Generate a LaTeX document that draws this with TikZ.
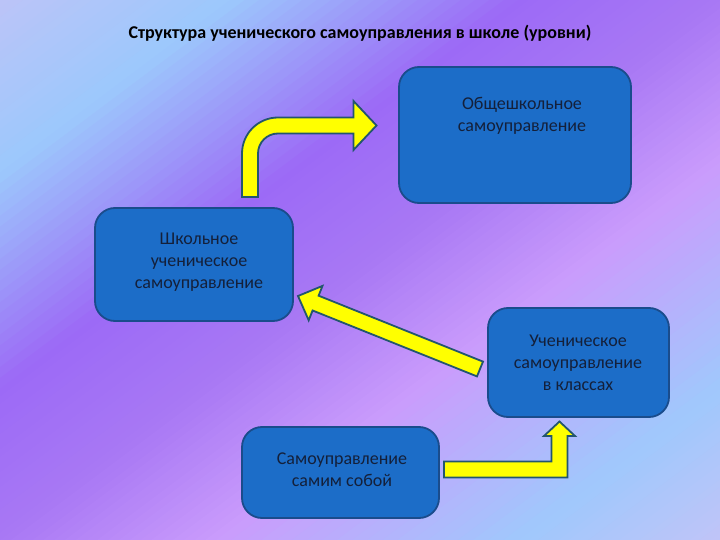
\documentclass[tikz,border=0pt]{standalone}
\usepackage{fontspec}
\setmainfont{Carlito}
\definecolor{bgA}{HTML}{BCC4F8}
\definecolor{bgB}{HTML}{9CC8FC}
\definecolor{bgC}{HTML}{9C6AF6}
\definecolor{bgD}{HTML}{A878F4}
\definecolor{bgE}{HTML}{CA9CFC}
\definecolor{bgF}{HTML}{A0C8FC}
\definecolor{bgG}{HTML}{C0C4F8}
\definecolor{boxfill}{HTML}{1C6DC8}
\definecolor{boxline}{HTML}{1A4C8C}
\definecolor{txtcol}{HTML}{14203A}
\definecolor{arrline}{HTML}{23566E}
\definecolor{arrfill}{HTML}{FFFF00}
\newcommand{\bgseg}[4]{%
  \foreach \i in {0,...,19}{%
    \pgfmathsetmacro\sa{#1+(#2-#1)*\i/20}%
    \pgfmathsetmacro\sb{#1+(#2-#1)*(\i+1)/20+0.004}%
    \pgfmathsetmacro\pct{100-100*(\i+0.5)/20}%
    \fill[#3!\pct!#4] (720*\sa,0) -- (0,540*\sa) -- (0,540*\sb) -- (720*\sb,0) -- cycle;
  }}
\begin{document}
\begin{tikzpicture}[x=1pt,y=-1pt,
  box/.style={draw=boxline, line width=1.8pt, fill=boxfill, rounded corners=20pt, inner sep=0pt},
  txt/.style={text=txtcol, align=center, font=\fontsize{18}{22}\selectfont},
  blockarrow/.style={fill=arrfill, draw=arrline, line width=1.8pt, line join=miter}]
\useasboundingbox (0,0) rectangle (720,540);
\begin{scope}
\clip (0,0) rectangle (720,540);
\bgseg{0}{0.32}{bgA}{bgB}
\bgseg{0.32}{0.72}{bgB}{bgC}
\bgseg{0.72}{1.0}{bgC}{bgD}
\bgseg{1.0}{1.3}{bgD}{bgE}
\bgseg{1.3}{1.72}{bgE}{bgF}
\bgseg{1.72}{2.0}{bgF}{bgG}
\end{scope}
% title
\node[anchor=base, font=\bfseries\fontsize{18}{21}\selectfont, text=black] (title) at (360,39)
  {Структура ученического самоуправления в школе (уровни)};
% boxes
\node[box, minimum width=232pt, minimum height=136pt] (A) at (515,135) {};
\node[box, minimum width=198pt, minimum height=113pt] (B) at (194,264.5) {};
\node[box, minimum width=181pt, minimum height=109pt] (C) at (578.5,362.5) {};
\node[box, minimum width=197pt, minimum height=91pt] (D) at (340.5,472.5) {};
\node[txt] (tA) at (522,115.5) {Общешкольное\\самоуправление};
\node[txt] (tB) at (199,262) {Школьное\\ученическое\\самоуправление};
\node[txt] (tC) at (578,363) {Ученическое\\самоуправление\\в классах};
\node[txt] (tD) at (342,470) {Самоуправление\\самим собой};
% arrow 1: B -> A
\coordinate (a1s) at (250,197);
\coordinate (a1e) at (376.5,125.5);
\draw[blockarrow] (242,197) -- (242,153.5) arc[start angle=180, end angle=270, radius=36]
  -- (353.5,117.5) -- (353.5,101) -- (a1e) -- (353.5,150) -- (353.5,133.5) -- (278,133.5)
  arc[start angle=270, end angle=180, radius=20] -- (258,197) -- cycle;
% arrow 2: C -> B
\coordinate (a2s) at (480,369);
\coordinate (a2e) at (298,296);
\draw[blockarrow] (483,361.6) -- (318.6,295.7) -- (322.5,285.9) -- (a2e) -- (308.7,320.3)
  -- (312.6,310.5) -- (477,376.4) -- cycle;
% arrow 3: D -> C
\coordinate (a3s) at (444,469.5);
\coordinate (a3e) at (559.5,421.5);
\draw[blockarrow] (444,461.5) -- (551.5,461.5) -- (551.5,436) -- (544,436) -- (a3e)
  -- (575,436) -- (567.5,436) -- (567.5,477.5) -- (444,477.5) -- cycle;
\end{tikzpicture}
\end{document}
